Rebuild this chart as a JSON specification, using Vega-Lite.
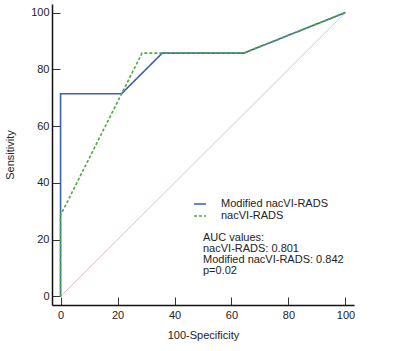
{
  "$schema": "https://vega.github.io/schema/vega-lite/v6.json",
  "autosize": "none",
  "width": 302,
  "height": 301,
  "padding": {"left": 52, "top": 4, "right": 46, "bottom": 46},
  "background": "white",
  "config": {
    "view": {"stroke": null},
    "font": "Liberation Sans",
    "axis": {
      "domainColor": "#111",
      "domainWidth": 1.5,
      "tickColor": "#333",
      "labelColor": "#222",
      "titleColor": "#222",
      "labelFontSize": 11,
      "titleFontSize": 11,
      "titleFontWeight": "normal",
      "grid": false
    }
  },
  "datasets": {
    "roc": [
      {"series": "Modified nacVI-RADS", "fpr": 0, "tpr": 0, "ord": 1},
      {"series": "Modified nacVI-RADS", "fpr": 0, "tpr": 71.4, "ord": 2},
      {"series": "Modified nacVI-RADS", "fpr": 21.4, "tpr": 71.4, "ord": 3},
      {"series": "Modified nacVI-RADS", "fpr": 35.7, "tpr": 85.7, "ord": 4},
      {"series": "Modified nacVI-RADS", "fpr": 64.3, "tpr": 85.7, "ord": 5},
      {"series": "Modified nacVI-RADS", "fpr": 100, "tpr": 100, "ord": 6},
      {"series": "nacVI-RADS", "fpr": 0, "tpr": 0, "ord": 1},
      {"series": "nacVI-RADS", "fpr": 0, "tpr": 28.6, "ord": 2},
      {"series": "nacVI-RADS", "fpr": 28.6, "tpr": 85.7, "ord": 3},
      {"series": "nacVI-RADS", "fpr": 64.3, "tpr": 85.7, "ord": 4},
      {"series": "nacVI-RADS", "fpr": 100, "tpr": 100, "ord": 5}
    ],
    "diag": [
      {"fpr": 0, "tpr": 0},
      {"fpr": 100, "tpr": 100}
    ],
    "note": [
      {"text": ["AUC values:", "nacVI-RADS: 0.801", "Modified nacVI-RADS: 0.842", "p=0.02"]}
    ]
  },
  "layer": [
    {
      "data": {"name": "diag"},
      "mark": {"type": "line", "color": "#dcc2c6", "strokeWidth": 1},
      "encoding": {
        "x": {"field": "fpr", "type": "quantitative"},
        "y": {"field": "tpr", "type": "quantitative"}
      }
    },
    {
      "data": {"name": "roc"},
      "mark": {"type": "line", "strokeWidth": 1.6},
      "encoding": {
        "x": {
          "field": "fpr", "type": "quantitative",
          "scale": {"domain": [-3, 103], "nice": false, "zero": false},
          "axis": {
            "title": "100-Specificity",
            "titlePadding": 9,
            "values": [0,5,10,15,20,25,30,35,40,45,50,55,60,65,70,75,80,85,90,95,100],
            "labelExpr": "datum.value % 20 === 0 ? datum.label : ''",
            "tickSize": {"condition": {"test": "datum.value % 20 === 0", "value": -8}, "value": -4},
            "labelPadding": 12,
            "labelFlush": false
          }
        },
        "y": {
          "field": "tpr", "type": "quantitative",
          "scale": {"domain": [-3, 103], "nice": false, "zero": false},
          "axis": {
            "title": "Sensitivity",
            "titlePadding": 15,
            "values": [0,5,10,15,20,25,30,35,40,45,50,55,60,65,70,75,80,85,90,95,100],
            "labelExpr": "datum.value % 20 === 0 ? datum.label : ''",
            "tickSize": {"condition": {"test": "datum.value % 20 === 0", "value": -8}, "value": -4},
            "labelPadding": 11,
            "labelFlush": false
          }
        },
        "order": {"field": "ord", "type": "quantitative"},
        "color": {
          "field": "series", "type": "nominal",
          "scale": {"domain": ["Modified nacVI-RADS", "nacVI-RADS"], "range": ["#3a5fb0", "#4cab3a"]},
          "legend": {
            "title": null,
            "orient": "none",
            "legendX": 141,
            "legendY": 193,
            "symbolType": "stroke",
            "symbolSize": 144,
            "symbolStrokeWidth": 1.5,
            "labelFontSize": 11,
            "labelColor": "#222",
            "labelOffset": 14,
            "rowPadding": 0
          }
        },
        "strokeDash": {
          "field": "series", "type": "nominal",
          "scale": {"domain": ["Modified nacVI-RADS", "nacVI-RADS"], "range": [[1, 0], [3, 2]]},
          "legend": null
        }
      }
    },
    {
      "data": {"name": "note"},
      "mark": {"type": "text", "align": "left", "baseline": "top", "fontSize": 11, "lineHeight": 11, "color": "#222"},
      "encoding": {
        "x": {"datum": 50},
        "y": {"datum": 22.6},
        "text": {"field": "text"}
      }
    }
  ]
}
